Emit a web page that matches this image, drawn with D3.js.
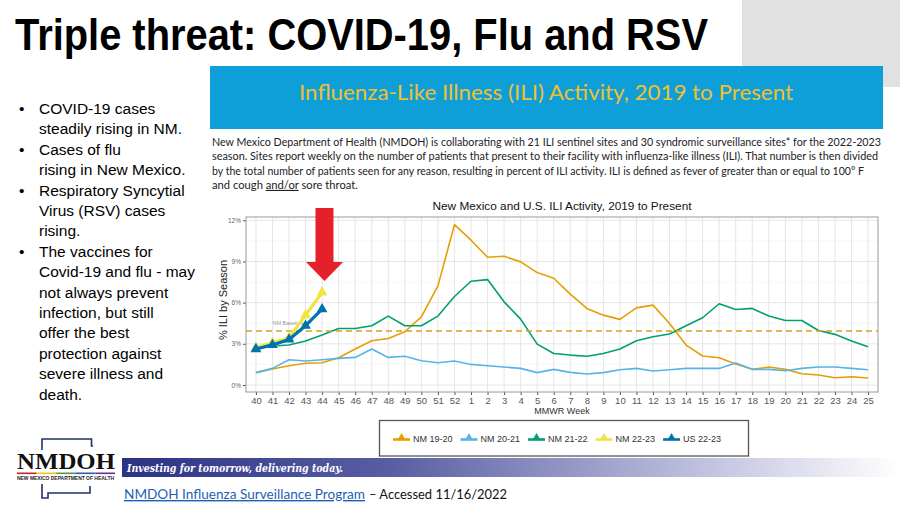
<!DOCTYPE html>
<html><head><meta charset="utf-8">
<script src="https://cdn.jsdelivr.net/npm/d3@7"></script>
<style>
html,body{margin:0;padding:0;background:#fff;}
svg{display:block;}
</style></head>
<body>
<svg id="slide" width="900" height="506"></svg>
<script>
// ---------- data ----------
const weeks = ["40","41","42","43","44","45","46","47","48","49","50","51","52",
  "1","2","3","4","5","6","7","8","9","10","11","12","13","14","15","16","17","18","19","20","21","22","23","24","25"];
const nm1920 = [0.9,1.16,1.4,1.58,1.62,1.99,2.62,3.22,3.39,3.88,4.97,7.22,11.68,
  10.55,9.31,9.38,8.97,8.19,7.78,6.62,5.58,5.09,4.78,5.62,5.82,4.48,2.91,2.11,1.99,1.53,1.14,1.31,1.14,0.82,0.73,0.53,0.6,0.51];
const nm2021 = [0.9,1.21,1.84,1.75,1.84,1.94,2.01,2.62,2.01,2.09,1.77,1.62,1.75,
  1.5,1.4,1.31,1.21,0.9,1.14,0.92,0.8,0.9,1.11,1.21,1.02,1.11,1.21,1.21,1.21,1.6,1.14,1.14,1.04,1.21,1.31,1.31,1.21,1.11];
const nm2122 = [2.79,2.84,2.91,3.2,3.64,4.12,4.12,4.32,5.02,4.32,4.32,5.02,6.45,
  7.56,7.68,6.06,4.8,2.98,2.3,2.18,2.09,2.3,2.62,3.22,3.52,3.71,4.32,4.9,5.92,5.5,5.58,5.02,4.7,4.7,3.97,3.69,3.2,2.79];
const nm2223 = [2.71,3.08,3.44,5.09,6.74];
const us2223 = [2.62,2.92,3.32,4.32,5.53];
const nmBaseline = 3.93;
const seriesNames = ["NM 19-20","NM 20-21","NM 21-22","NM 22-23","US 22-23"];
const seriesColors = ["#E69F00","#56B4E9","#009E73","#F0E442","#0072B2"];
const yTicks = [0,3,6,9,12];
const yMinor = [1.5,4.5,7.5,10.5];

const bullets = [
  ["COVID-19 cases","steadily rising in NM."],
  ["Cases of flu","rising in New Mexico."],
  ["Respiratory Syncytial","Virus (RSV) cases","rising."],
  ["The vaccines for","Covid-19 and flu - may","not always prevent","infection, but still","offer the best","protection against","severe illness and","death."]
];
const paragraph = [
  "New Mexico Department of Health (NMDOH) is collaborating with 21 ILI sentinel sites and 30 syndromic surveillance sites* for the 2022-2023",
  "season. Sites report weekly on the number of patients that present to their facility with influenza-like illness (ILI). That number is then divided",
  "by the total number of patients seen for any reason, resulting in percent of ILI activity. ILI is defined as fever of greater than or equal to 100° F"
];
const paraWidths = [669, 666, 652];

// ---------- slide ----------
const svg = d3.select("#slide");
const defs = svg.append("defs");
const grad = defs.append("linearGradient").attr("id","bannerGrad").attr("x1","0").attr("x2","1").attr("y1","0").attr("y2","0");
grad.append("stop").attr("offset","0%").attr("stop-color","#2c3285");
grad.append("stop").attr("offset","35%").attr("stop-color","#5a5fa3");
grad.append("stop").attr("offset","70%").attr("stop-color","#b4b6d8");
grad.append("stop").attr("offset","100%").attr("stop-color","#ffffff");

// gray corner
svg.append("rect").attr("x",742).attr("y",0).attr("width",158).attr("height",87).attr("fill","#e1e1e1");

// slide title
svg.append("text").attr("x",15).attr("y",50)
  .attr("font-family","'Liberation Sans Narrow','Arial Narrow','Liberation Sans',sans-serif")
  .attr("font-weight","bold").attr("font-size",45).attr("fill","#000")
  .attr("textLength",693).attr("lengthAdjust","spacingAndGlyphs")
  .text("Triple threat: COVID-19, Flu and RSV");

// blue header
svg.append("rect").attr("x",210).attr("y",66).attr("width",673).attr("height",63).attr("fill","#0e9fd8");
svg.append("text").attr("x",546).attr("y",100).attr("text-anchor","middle")
  .attr("font-family","Lato,'Open Sans',sans-serif").attr("font-size",22).attr("fill","#f0c030")
  .attr("textLength",494).attr("lengthAdjust","spacingAndGlyphs")
  .text("Influenza-Like Illness (ILI) Activity, 2019 to Present");

// paragraph
const para = svg.append("g").attr("font-family","Lato,'Open Sans',sans-serif").attr("font-size",11).attr("fill","#222");
paragraph.forEach((t,i)=>{
  para.append("text").attr("x",212).attr("y",146+i*14.3)
    .attr("textLength",paraWidths[i]).attr("lengthAdjust","spacingAndGlyphs").text(t);
});
const last = para.append("text").attr("x",212).attr("y",146+3*14.3).attr("textLength",146).attr("lengthAdjust","spacingAndGlyphs");
last.append("tspan").text("and cough ");
last.append("tspan").attr("text-decoration","underline").text("and/or");
last.append("tspan").text(" sore throat.");

// bullets
const bl = svg.append("g").attr("font-family","'Liberation Sans',Arial,sans-serif").attr("font-size",15.5).attr("fill","#000");
let line = 0;
bullets.forEach(b=>{
  bl.append("text").attr("x",19).attr("y",114+line*20.4).text("•");
  b.forEach(t=>{
    bl.append("text").attr("x",39).attr("y",114+line*20.4).text(t);
    line++;
  });
});

// ---------- chart ----------
const panel = {left:246, right:878, top:217, bottom:392};
const x = d3.scalePoint().domain(weeks).range([panel.left, panel.right]).padding(0.6);
const y = d3.scaleLinear().domain([-0.51, 12.24]).range([panel.bottom, panel.top]);
const ch = svg.append("g");

ch.append("rect").attr("x",panel.left).attr("y",panel.top).attr("width",panel.right-panel.left).attr("height",panel.bottom-panel.top).attr("fill","#fff");
// grid
ch.append("g").selectAll("line").data(yMinor).join("line")
  .attr("x1",panel.left).attr("x2",panel.right).attr("y1",d=>y(d)).attr("y2",d=>y(d))
  .attr("stroke","#f2f2f2").attr("stroke-width",0.6);
ch.append("g").selectAll("line").data(yTicks).join("line")
  .attr("x1",panel.left).attr("x2",panel.right).attr("y1",d=>y(d)).attr("y2",d=>y(d))
  .attr("stroke","#e6e6e6").attr("stroke-width",1);
ch.append("g").selectAll("line").data(weeks).join("line")
  .attr("x1",d=>x(d)).attr("x2",d=>x(d)).attr("y1",panel.top).attr("y2",panel.bottom)
  .attr("stroke","#e6e6e6").attr("stroke-width",1);

// axes
const xAxis = ch.append("g").attr("transform",`translate(0,${panel.bottom})`)
  .call(d3.axisBottom(x).tickSize(3).tickPadding(2));
xAxis.select(".domain").remove();
xAxis.selectAll("line").attr("stroke","#555");
xAxis.selectAll("text").attr("font-family","'Liberation Sans',Arial,sans-serif").attr("font-size",9.5).attr("fill","#555");
const yAxis = ch.append("g").attr("transform",`translate(${panel.left},0)`)
  .call(d3.axisLeft(y).tickValues(yTicks).tickFormat(d=>d+"%").tickSize(3).tickPadding(2));
yAxis.select(".domain").remove();
yAxis.selectAll("line").attr("stroke","#555");
yAxis.selectAll("text").attr("font-family","'Liberation Sans',Arial,sans-serif").attr("font-size",6.5).attr("fill","#666");

ch.append("text").attr("x",(panel.left+panel.right)/2).attr("y",414).attr("text-anchor","middle")
  .attr("font-family","'Liberation Sans',Arial,sans-serif").attr("font-size",9).attr("fill","#333").text("MMWR Week");
ch.append("text").attr("transform","translate(227,300) rotate(-90)").attr("text-anchor","middle")
  .attr("font-family","'Liberation Sans',Arial,sans-serif").attr("font-size",11).attr("fill","#222").text("% ILI by Season");
ch.append("text").attr("x",562).attr("y",210).attr("text-anchor","middle")
  .attr("font-family","'Liberation Sans',Arial,sans-serif").attr("font-size",11).attr("fill","#111")
  .attr("textLength",259).attr("lengthAdjust","spacingAndGlyphs")
  .text("New Mexico and U.S. ILI Activity, 2019 to Present");

const lineGen = d3.line().x((d,i)=>x(weeks[i])).y(d=>y(d));
const hist = [nm1920, nm2021, nm2122];
hist.forEach((s,k)=>{
  ch.append("path").datum(s).attr("d",lineGen).attr("fill","none")
    .attr("stroke",seriesColors[k]).attr("stroke-width",1.6).attr("stroke-linejoin","round");
});
// baseline
ch.append("line").attr("x1",panel.left).attr("x2",panel.right).attr("y1",y(nmBaseline)).attr("y2",y(nmBaseline))
  .attr("stroke","#D9A01E").attr("stroke-width",1.4).attr("stroke-dasharray","6,4");
ch.append("text").attr("x",x("41")).attr("y",y(nmBaseline)-6)
  .attr("font-family","'Liberation Sans',Arial,sans-serif").attr("font-size",5.5).attr("fill","#999").text("NM Baseline");

const tri = d3.symbol().type(d3.symbolTriangle).size(50);
[[nm2223,3],[us2223,4]].forEach(([s,k])=>{
  ch.append("path").datum(s).attr("d",lineGen).attr("fill","none")
    .attr("stroke",seriesColors[k]).attr("stroke-width",3.2).attr("stroke-linejoin","round");
  ch.append("g").selectAll("path").data(s).join("path")
    .attr("transform",(d,i)=>`translate(${x(weeks[i])},${y(d)})`).attr("d",tri).attr("fill",seriesColors[k]);
});

// panel border
ch.append("rect").attr("x",panel.left).attr("y",panel.top).attr("width",panel.right-panel.left).attr("height",panel.bottom-panel.top)
  .attr("fill","none").attr("stroke","#9a9a9a").attr("stroke-width",1);

// red arrow
const ax = 324.5;
svg.append("path").attr("fill","#e4202a")
  .attr("d",`M${ax-9},208 L${ax+9},208 L${ax+9},262 L${ax+18.5},262 L${ax},281 L${ax-18.5},262 L${ax-9},262 Z`);

// legend
svg.append("rect").attr("x",379.5).attr("y",420.5).attr("width",369).attr("height",35.5)
  .attr("fill","#fff").attr("stroke","#555").attr("stroke-width",1.3);
const lg = svg.append("g").attr("font-family","'Liberation Sans',Arial,sans-serif").attr("font-size",9).attr("fill","#333");
let lx = 393;
seriesNames.forEach((n,k)=>{
  lg.append("line").attr("x1",lx).attr("x2",lx+17).attr("y1",439.5).attr("y2",439.5).attr("stroke",seriesColors[k]).attr("stroke-width",2.6);
  lg.append("path").attr("transform",`translate(${lx+8.5},437.5)`).attr("d",d3.symbol().type(d3.symbolTriangle).size(26)).attr("fill",seriesColors[k]);
  const t = lg.append("text").attr("x",lx+20).attr("y",442).text(n);
  lx += 20 + t.node().getComputedTextLength() + 8;
});

// bottom banner
svg.append("rect").attr("x",122).attr("y",458).attr("width",778).attr("height",19).attr("fill","url(#bannerGrad)");
svg.append("text").attr("x",127).attr("y",471.5)
  .attr("font-family","'DejaVu Serif','Liberation Serif',serif").attr("font-style","italic").attr("font-weight","bold")
  .attr("font-size",11).attr("fill","#fff").attr("textLength",216).attr("lengthAdjust","spacingAndGlyphs")
  .text("Investing for tomorrow, delivering today.");

svg.append("text").attr("x",124).attr("y",499).attr("font-family","Lato,'Open Sans',sans-serif").attr("font-size",14)
  .attr("fill","#1f5fb5").attr("text-decoration","underline").attr("textLength",241).attr("lengthAdjust","spacingAndGlyphs")
  .text("NMDOH Influenza Surveillance Program");
svg.append("text").attr("x",369).attr("y",499).attr("font-family","Lato,'Open Sans',sans-serif").attr("font-size",14)
  .attr("fill","#111").attr("textLength",138).attr("lengthAdjust","spacingAndGlyphs")
  .text("– Accessed 11/16/2022");

// logo
const logo = svg.append("g");
logo.append("path").attr("fill","none").attr("stroke","#25306b").attr("stroke-width",1.6)
  .attr("d","M42,450 L42,439 L91.5,439 L91.5,446 L93,446");
logo.append("path").attr("fill","none").attr("stroke","#25306b").attr("stroke-width",1.6)
  .attr("d","M42,484 L42,498 L48,498 L48,493 L90,493 L90,486");
logo.append("text").attr("x",17).attr("y",468.5).attr("font-family","'Liberation Serif','DejaVu Serif',serif")
  .attr("font-weight","bold").attr("font-size",23).attr("fill","#111").attr("textLength",98).attr("lengthAdjust","spacingAndGlyphs").text("NMDOH");
const rainbow = ["#c8202e","#f0c419","#4e9d45","#3159a8","#6b2f8f"];
rainbow.forEach((c,i)=>{
  logo.append("rect").attr("x",17+i*19.6).attr("y",472.5).attr("width",19.6).attr("height",1.6).attr("fill",c);
});
logo.append("text").attr("x",17).attr("y",479.5).attr("font-family","'Liberation Sans',Arial,sans-serif")
  .attr("font-weight","bold").attr("font-size",4.6).attr("fill","#222").attr("textLength",97).attr("lengthAdjust","spacingAndGlyphs")
  .text("NEW MEXICO DEPARTMENT OF HEALTH");
</script>
</body></html>
